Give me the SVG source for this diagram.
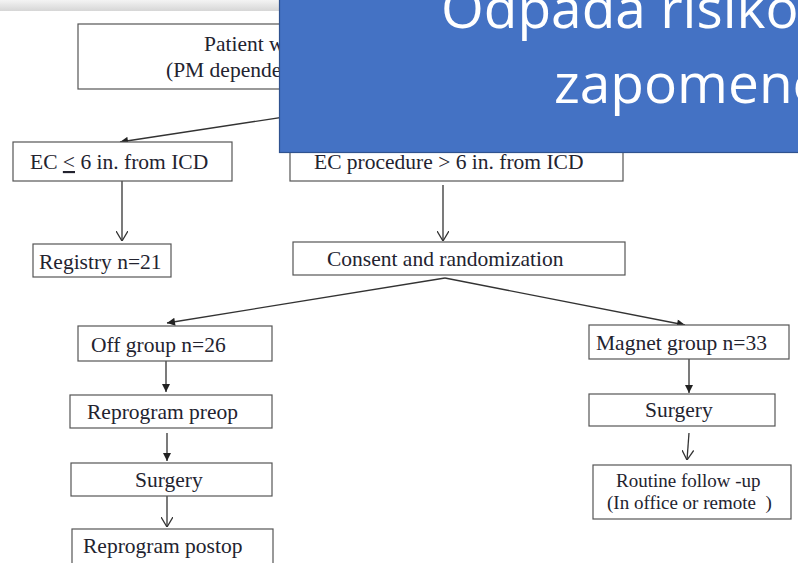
<svg xmlns="http://www.w3.org/2000/svg" width="798" height="563" viewBox="0 0 798 563">
<defs>
<linearGradient id="band" x1="0" y1="0" x2="0" y2="1">
<stop offset="0" stop-color="#f4f4f4"/>
<stop offset="1" stop-color="#d6d6d6"/>
</linearGradient>
<marker id="fill" viewBox="0 0 10 10" refX="10" refY="5" markerWidth="9" markerHeight="8" markerUnits="userSpaceOnUse" orient="auto">
<path d="M0,0 L10,5 L0,10 z" fill="#222"/>
</marker>
<marker id="open" viewBox="0 0 10 12" refX="10" refY="6" markerWidth="10" markerHeight="12" markerUnits="userSpaceOnUse" orient="auto">
<path d="M0,0 L10,6 L0,12" fill="none" stroke="#333" stroke-width="1.3"/>
</marker>
</defs>
<style>
.box{fill:#fff;stroke:#555;stroke-width:1.2}
.t{font-family:"Liberation Serif","Times New Roman",serif;font-size:21.5px;fill:#23232f}
.c{stroke:#333;stroke-width:1.3;fill:none}
.f{marker-end:url(#fill)}
.o{marker-end:url(#open)}
.big{font-family:"Open Sans","Noto Sans",sans-serif;font-size:55px;fill:#fff}
</style>
<rect x="0" y="0" width="798" height="563" fill="#fff"/>
<rect x="0" y="0" width="798" height="11" fill="url(#band)"/>

<g id="connectors">
<path class="c f" d="M330,110 L120,142"/>
<path class="c o" d="M122,181 L122,241"/>
<path class="c o" d="M443,185 L443,241"/>
<path class="c f" d="M445,278 L167,323"/>
<path class="c f" d="M445,278 L685,325"/>
<path class="c f" d="M166,361 L166,392"/>
<path class="c f" d="M167,433 L167,461"/>
<path class="c o" d="M167,496 L167,527"/>
<path class="c f" d="M689,359 L689,393"/>
<path class="c o" d="M689,433 L687,460"/>
</g>

<g id="patient">
<rect class="box" x="78" y="24" width="420" height="65"/>
<text class="t" x="204" y="51">Patient wi</text>
<text class="t" x="166" y="77">(PM dependen</text>
</g>
<g id="ec-le">
<rect class="box" x="13" y="142" width="219" height="39"/>
<text class="t" x="30" y="169">EC <tspan text-decoration="underline">&lt;</tspan> 6 in. from ICD</text>
</g>
<g id="ec-gt">
<rect class="box" x="290" y="142" width="333" height="39"/>
<text class="t" x="314" y="169">EC procedure &gt; 6 in. from ICD</text>
</g>
<g id="registry">
<rect class="box" x="33" y="244" width="138" height="33"/>
<text class="t" x="39" y="269">Registry n=21</text>
</g>
<g id="consent">
<rect class="box" x="293" y="242" width="332" height="33"/>
<text class="t" x="327" y="266">Consent and randomization</text>
</g>
<g id="off">
<rect class="box" x="78" y="326" width="194" height="35"/>
<text class="t" x="91" y="352">Off group n=26</text>
</g>
<g id="magnet">
<rect class="box" x="589" y="325" width="200" height="34"/>
<text class="t" x="596" y="350">Magnet group n=33</text>
</g>
<g id="preop">
<rect class="box" x="70" y="395" width="202" height="33"/>
<text class="t" x="87" y="419">Reprogram preop</text>
</g>
<g id="surgery-left">
<rect class="box" x="71" y="463" width="201" height="33"/>
<text class="t" x="135" y="487">Surgery</text>
</g>
<g id="postop">
<rect class="box" x="72" y="529" width="201" height="45"/>
<text class="t" x="83" y="553">Reprogram postop</text>
</g>
<g id="surgery-right">
<rect class="box" x="589" y="394" width="186" height="32"/>
<text class="t" x="645" y="417">Surgery</text>
</g>
<g id="routine">
<rect class="box" x="593" y="465" width="198" height="54"/>
<text class="t" x="616" y="487" style="font-size:19px">Routine follow -up</text>
<text class="t" x="607" y="509" style="font-size:19px;white-space:pre">(In office or remote  )</text>
</g>

<g id="overlay">
<rect x="279.5" y="-2" width="522" height="154.5" fill="#4472c4" stroke="#2f528f" stroke-width="1.2"/>
<text class="big" x="441" y="28">Odpada risiko,</text>
<text class="big" x="554" y="103">zapomeno</text>
</g>
</svg>
